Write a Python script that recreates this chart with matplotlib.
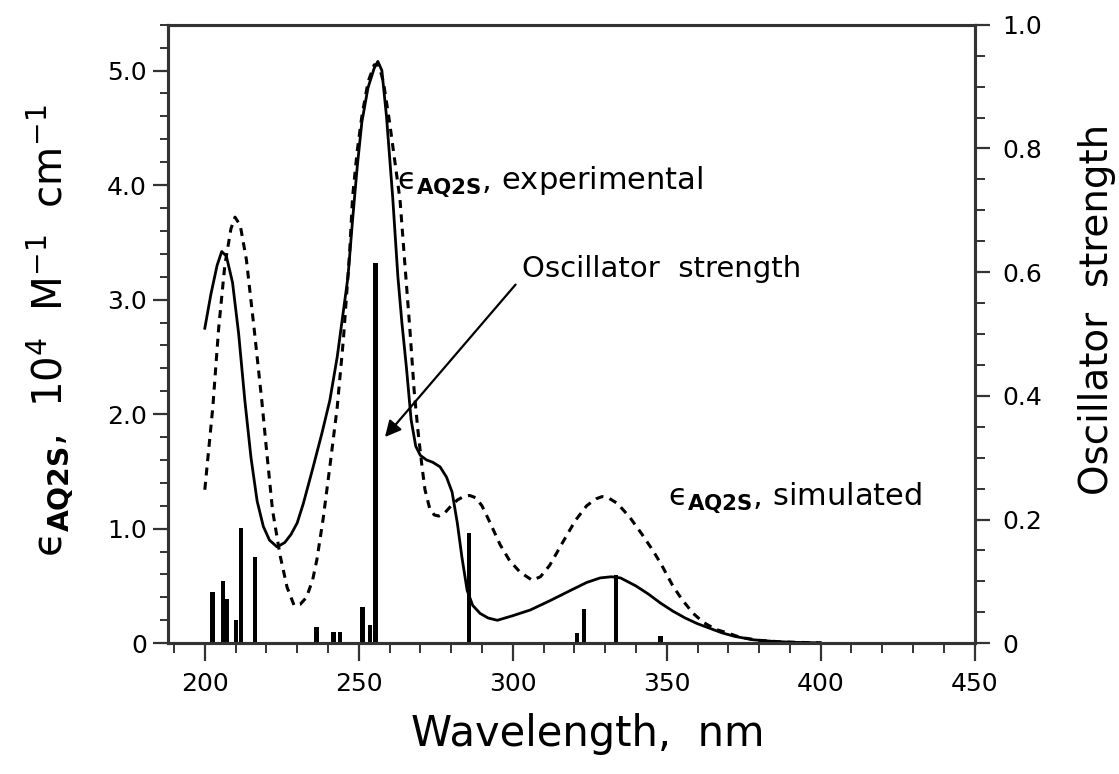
import numpy as np
import matplotlib
matplotlib.use('Agg')
import matplotlib.pyplot as plt
from matplotlib.ticker import MultipleLocator, FixedLocator

plt.rcParams['font.family'] = ['DejaVu Sans']
plt.rcParams['mathtext.fontset'] = 'dejavusans'

# experimental spectrum (nm, 1e4 M-1 cm-1)
exp_wl = [200, 202, 204, 205.5, 207, 209, 211, 213, 215, 217, 219, 221, 223.5, 226, 228,
          230, 232, 235, 238, 240.6, 243, 245, 246.5, 248, 249.5, 251, 253, 255, 256.2,
          257.5, 259, 261, 262.7, 264, 265.5, 267, 268.5, 270, 272, 274, 276.4, 278.5,
          280.3, 282, 283.5, 285.2, 287, 289.4, 292, 295, 300, 305.7, 312, 318.7, 324,
          328.4, 332, 335, 340, 344, 348, 352, 356, 360, 364, 368, 372, 378, 385, 392, 400]
exp_eps = [2.75, 3.05, 3.30, 3.42, 3.38, 3.15, 2.70, 2.12, 1.62, 1.24, 1.02, 0.90, 0.84, 0.88, 0.95,
           1.05, 1.22, 1.52, 1.83, 2.12, 2.50, 2.90, 3.20, 3.70, 4.16, 4.55, 4.85, 5.02, 5.08,
           5.00, 4.60, 3.90, 3.20, 2.80, 2.40, 1.95, 1.72, 1.64, 1.60, 1.58, 1.54, 1.45,
           1.32, 1.05, 0.75, 0.46, 0.33, 0.26, 0.22, 0.20, 0.24, 0.29, 0.37, 0.46, 0.53,
           0.57, 0.58, 0.57, 0.50, 0.43, 0.35, 0.28, 0.22, 0.17, 0.13, 0.09, 0.06, 0.03, 0.015, 0.007, 0.003]

# simulated spectrum
sim_wl = [200, 202.6, 204.5, 206.5, 208.5, 209.8, 211.5, 213.5, 216, 218.5, 220, 222, 224.5,
          226.7, 229, 231, 233, 235, 236.4, 238.4, 240.6, 243, 245, 247, 248, 249.5, 251,
          253, 255, 256.5, 258, 260, 262, 263.4, 265, 266.6, 268, 269.2, 270.5, 271.5, 273,
          274.5, 276, 278, 280, 282, 284, 286, 288, 290, 292.5, 295.9, 299, 302.4, 306.3,
          309, 312, 316, 320.3, 324, 327, 329, 331, 334, 338, 342, 345, 348, 352, 355,
          358.6, 362, 366, 369.7, 374, 380, 388, 400]
sim_eps = [1.34, 2.06, 2.75, 3.30, 3.62, 3.72, 3.65, 3.35, 2.75, 2.12, 1.70, 1.16, 0.76,
           0.49, 0.33, 0.34, 0.40, 0.55, 0.73, 1.08, 1.54, 2.06, 2.65, 3.40, 3.90, 4.30, 4.60,
           4.90, 5.05, 5.05, 4.90, 4.55, 4.15, 3.87, 3.30, 2.74, 2.20, 1.86, 1.55, 1.34, 1.18,
           1.12, 1.11, 1.14, 1.20, 1.25, 1.28, 1.29, 1.27, 1.20, 1.06, 0.86, 0.72, 0.62, 0.55,
           0.58, 0.68, 0.87, 1.07, 1.20, 1.26, 1.28, 1.27, 1.22, 1.10, 0.95, 0.83, 0.70, 0.50, 0.38,
           0.26, 0.18, 0.12, 0.09, 0.05, 0.025, 0.01, 0.003]

# computed transitions
osc_wl = [202.5, 206, 207.2, 210.2, 211.8, 216.2, 236.3, 241.8, 243.8, 251.2, 253.6, 255.4,
          285.8, 320.8, 323.2, 333.6, 348.0]
osc_f = [0.083, 0.100, 0.072, 0.037, 0.186, 0.139, 0.026, 0.018, 0.018, 0.058, 0.030, 0.615,
         0.178, 0.016, 0.055, 0.110, 0.012]

eps_lbl = 'ϵ$_{\\mathbf{AQ2S}}$,'

fig = plt.figure(figsize=(11.19, 7.74), dpi=100)
ax = fig.add_axes([0.150, 0.169, 0.721, 0.799])
ax2 = ax.twinx()

ax2.bar(osc_wl, osc_f, width=1.4, color='black', zorder=2)
ax.plot(exp_wl, exp_eps, color='black', lw=2.0, zorder=3)
ax.plot(sim_wl, sim_eps, color='black', lw=2.2, linestyle=(0, (2.6, 2.1)), zorder=3)

ax.set_xlim(188, 450)
ax.set_ylim(0, 5.4)
ax2.set_ylim(0, 1.0)

ax.xaxis.set_major_locator(MultipleLocator(50))
ax.xaxis.set_minor_locator(MultipleLocator(10))
ax.yaxis.set_major_locator(FixedLocator([0, 1, 2, 3, 4, 5]))
ax.yaxis.set_minor_locator(MultipleLocator(0.2))
ax.set_yticklabels(['0', '1.0', '2.0', '3.0', '4.0', '5.0'])
ax2.yaxis.set_major_locator(FixedLocator([0, 0.2, 0.4, 0.6, 0.8, 1.0]))
ax2.yaxis.set_minor_locator(MultipleLocator(0.05))
ax2.set_yticklabels(['0', '0.2', '0.4', '0.6', '0.8', '1.0'])

for a in (ax, ax2):
    for s in a.spines.values():
        s.set_linewidth(2.2)
        s.set_color('#333333')
ax.tick_params(axis='x', which='major', direction='out', length=13, width=1.6,
               labelsize=18, pad=8, color='#333333')
ax.tick_params(axis='x', which='minor', direction='out', length=7, width=1.4, color='#333333')
ax.tick_params(axis='y', which='major', direction='out', length=11, width=1.6,
               labelsize=18, pad=4, color='#333333')
ax.tick_params(axis='y', which='minor', direction='out', length=6, width=1.4, color='#333333')
ax2.tick_params(axis='y', which='major', direction='out', length=11, width=1.6,
                labelsize=18, pad=9, color='#333333')
ax2.tick_params(axis='y', which='minor', direction='out', length=7, width=1.4, color='#333333')

ax.set_xlabel('Wavelength,  nm', fontsize=30)
ax.xaxis.set_label_coords(0.52, -0.113)
ax.set_ylabel(eps_lbl + '  10$^{4}$  M$^{-1}$  cm$^{-1}$', fontsize=29)
ax.yaxis.set_label_coords(-0.115, 0.506)
ax2.set_ylabel('Oscillator  strength', fontsize=28)
ax2.yaxis.set_label_coords(1.128, 0.54)

ax.text(262.4, 3.96, eps_lbl + ' experimental', fontsize=22)
ax.text(350.5, 1.2, eps_lbl + ' simulated', fontsize=22)
ax.annotate('Oscillator  strength', xy=(258.5, 1.80), xytext=(303, 3.2), fontsize=21,
            arrowprops=dict(arrowstyle='-|>', color='black', lw=1.6, mutation_scale=24,
                            shrinkA=4, shrinkB=0, relpos=(0, 0.2)))

fig.savefig('out.png', dpi=100)
